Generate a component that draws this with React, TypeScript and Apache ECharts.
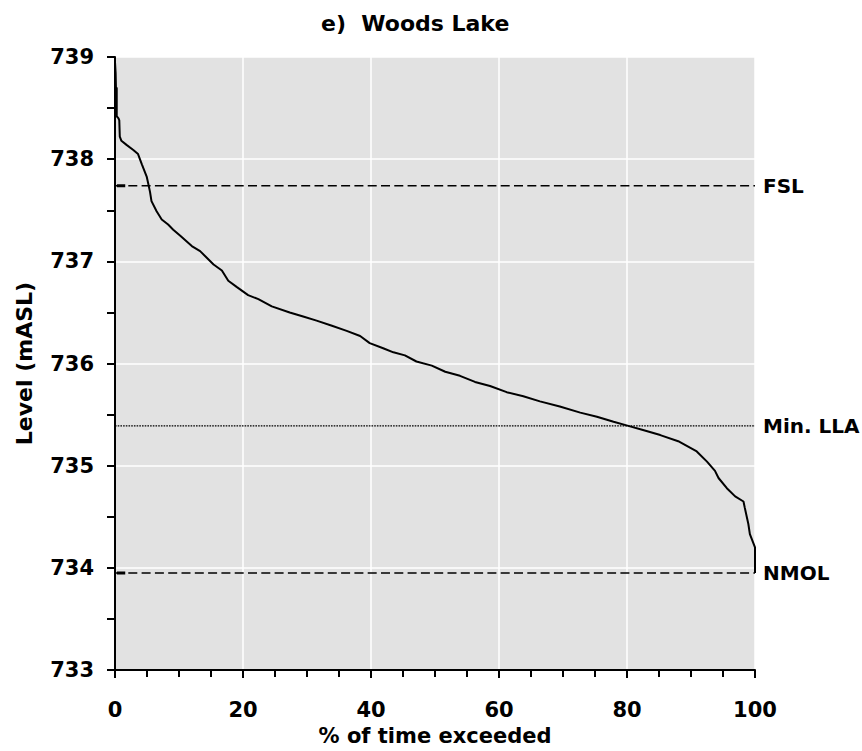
import React, { useEffect, useRef } from "react";
import * as echarts from "echarts";

// Duration curve: % of time each lake level is exceeded
const pctExceeded = [
  0, 0.1, 0.15, 0.27, 0.27, 0.55, 0.67, 0.75, 1.0, 1.8, 2.86, 3.6, 4.2, 4.95, 5.2, 5.47, 5.7, 6.5, 7.3, 8.3,
  9.1, 10.2, 12.0, 13.3, 15.4, 16.7, 17.7, 19.0, 20.8, 22.4, 24.5, 27.3, 29.4, 31.5, 33.9, 36.2, 38.3, 39.8,
  41.9, 43.5, 45.3, 47.1, 49.5, 51.6, 53.9, 56.25, 58.6, 61.2, 63.8, 66.4, 69.5, 72.7, 75.3, 77.9, 80.2, 82.5,
  85.2, 88.0, 90.9, 92.5, 93.75, 94.3, 95.6, 96.9, 98.2, 98.4, 98.96, 99.2, 100, 100,
];
const levels = [
  738.95, 738.84, 738.7, 738.7, 738.42, 738.4, 738.38, 738.22, 738.18, 738.14, 738.09, 738.05, 737.95, 737.83,
  737.76, 737.68, 737.59, 737.49, 737.41, 737.36, 737.31, 737.25, 737.15, 737.1, 736.97, 736.91, 736.81,
  736.75, 736.67, 736.63, 736.56, 736.5, 736.46, 736.42, 736.37, 736.32, 736.27, 736.2, 736.15, 736.11, 736.08,
  736.02, 735.98, 735.92, 735.88, 735.82, 735.78, 735.72, 735.68, 735.63, 735.58, 735.52, 735.48, 735.43,
  735.39, 735.35, 735.3, 735.24, 735.14, 735.04, 734.95, 734.88, 734.78, 734.7, 734.65, 734.59, 734.43,
  734.33, 734.2, 733.95,
];

// Reference levels (mASL)
const refNames = ["FSL", "Min. LLA", "NMOL"];
const refLevels = [737.74, 735.39, 733.95];

const xTicks = { min: 0, max: 100, interval: 20 };
const yTicks = { min: 733, max: 739, interval: 1 };

const FONT = "DejaVu Sans";

export default function App() {
  const ref = useRef<HTMLDivElement>(null);

  useEffect(() => {
    if (!ref.current) return;
    const chart = echarts.init(ref.current, null, { renderer: "svg" });

    const curve = pctExceeded.map((x, i) => [x, levels[i]]);

    const refSeries = refNames.map((name, i) => {
      const dotted = name === "Min. LLA";
      return {
        type: "line",
        name,
        data: [
          [xTicks.min, refLevels[i]],
          [xTicks.max, refLevels[i]],
        ],
        symbol: "none",
        silent: true,
        lineStyle: dotted
          ? { color: "#000", width: 1.3, type: [1.6, 1.1] }
          : { color: "#000", width: 1.6, type: [9, 4.3] },
        endLabel: {
          show: true,
          formatter: name,
          distance: 8,
          color: "#000",
          fontFamily: FONT,
          fontWeight: "bold",
          fontSize: 20,
        },
        z: 2,
      };
    });

    // short solid stubs at the start of the dashed lines
    const stubs = refNames
      .map((name, i) => ({ name, y: refLevels[i] }))
      .filter((r) => r.name !== "Min. LLA")
      .map((r) => ({
        type: "line",
        data: [
          [0.3, r.y],
          [1.6, r.y],
        ],
        symbol: "none",
        silent: true,
        lineStyle: { color: "#000", width: 3 },
        z: 2,
      }));

    chart.setOption({
      animation: false,
      backgroundColor: "#fff",
      title: {
        text: "e)  Woods Lake",
        left: 316,
        top: 7,
        textStyle: { fontFamily: FONT, fontWeight: "bold", fontSize: 22, color: "#000" },
      },
      grid: {
        left: 115,
        top: 57,
        width: 640,
        height: 616,
        show: true,
        backgroundColor: "#e2e2e2",
        borderWidth: 0,
      },
      xAxis: {
        type: "value",
        min: xTicks.min,
        max: xTicks.max,
        interval: xTicks.interval,
        name: "% of time exceeded",
        nameLocation: "middle",
        nameGap: 52,
        nameTextStyle: { fontFamily: FONT, fontWeight: "bold", fontSize: 21, color: "#000" },
        axisLine: { show: true, onZero: false, lineStyle: { color: "#000", width: 2 } },
        axisTick: { show: true, inside: false, length: 8, lineStyle: { color: "#000", width: 2 } },
        minorTick: { show: true, splitNumber: 4, length: 7, lineStyle: { color: "#000", width: 2 } },
        axisLabel: { margin: 29, fontFamily: FONT, fontWeight: "bold", fontSize: 21, color: "#000" },
        splitLine: { show: true, lineStyle: { color: "#fff", width: 1.5 } },
      },
      yAxis: {
        type: "value",
        min: yTicks.min,
        max: yTicks.max,
        interval: yTicks.interval,
        name: "Level (mASL)",
        nameLocation: "middle",
        nameGap: 80,
        nameTextStyle: { fontFamily: FONT, fontWeight: "bold", fontSize: 22, color: "#000" },
        axisLine: { show: true, onZero: false, lineStyle: { color: "#000", width: 2 } },
        axisTick: { show: true, inside: false, length: 8, lineStyle: { color: "#000", width: 2 } },
        minorTick: { show: true, splitNumber: 2, length: 8, lineStyle: { color: "#000", width: 2 } },
        axisLabel: { margin: 21, fontFamily: FONT, fontWeight: "bold", fontSize: 21, color: "#000" },
        splitLine: { show: true, lineStyle: { color: "#fff", width: 1.5 } },
      },
      series: [
        ...refSeries,
        ...stubs,
        {
          type: "line",
          name: "Level",
          data: curve,
          symbol: "none",
          silent: true,
          lineStyle: { color: "#000", width: 2 },
          z: 3,
        },
      ],
    });

    return () => chart.dispose();
  }, []);

  return (
    <div
      ref={ref}
      style={{ position: "absolute", left: 0, top: 0, width: 862, height: 751 }}
    />
  );
}
